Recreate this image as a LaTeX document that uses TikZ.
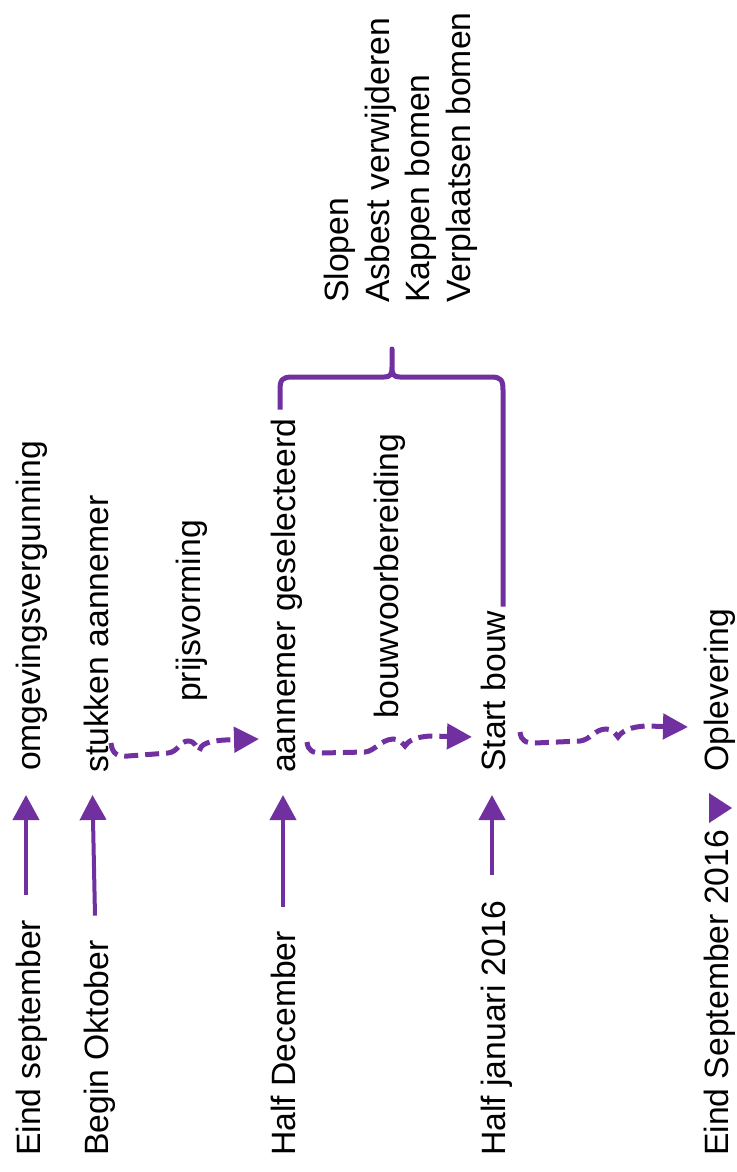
\documentclass[tikz,border=0pt]{standalone}
\usepackage{fontspec}
\setmainfont{Liberation Sans}
\usetikzlibrary{arrows.meta,calc}
\definecolor{tlpurple}{RGB}{112,48,160}
\begin{document}
\begin{tikzpicture}[x=1pt,y=1pt,
  vtext/.style={rotate=90,anchor=base west,inner sep=0pt,font=\fontsize{33.7pt}{40.5pt}\selectfont,text=black},
  solidarrow/.style={draw=tlpurple,line width=4pt,-{Triangle[length=25pt,width=26pt]}},
  dasharrow/.style={draw=tlpurple,line width=5pt,dash pattern=on 14pt off 7pt,-{Triangle[length=25pt,width=25pt]}},
  bracepath/.style={draw=tlpurple,line width=5pt,line join=round}]
\useasboundingbox (0,0) rectangle (736,-1172);
% date labels
\node[vtext] (es)  at (40,-1156)  {Eind september};
\node[vtext] (bo)  at (108,-1156) {Begin Oktober};
\node[vtext] (hd)  at (295,-1156) {Half December};
\node[vtext] (hj)  at (505,-1156) {Half januari 2016};
\node[vtext] (esp) at (728,-1156) {Eind September 2016};
% events
\node[vtext] (og) at (40,-771)  {omgevingsvergunning};
\node[vtext] (sa) at (108,-773) {stukken aannemer};
\node[vtext] (pv) at (200,-702) {prijsvorming};
\node[vtext] (ag) at (295,-773) {aannemer geselecteerd};
\node[vtext] (bv) at (398,-718.5) {bouwvoorbereiding};
\node[vtext] (sb) at (505,-772) {Start bouw};
\node[vtext] (op) at (728,-772) {Oplevering};
% list
\node[vtext] (l1) at (348.5,-303) {Slopen};
\node[vtext] (l2) at (389,-303)   {Asbest verwijderen};
\node[vtext] (l3) at (429.7,-303) {Kappen bomen};
\node[vtext] (l4) at (470.3,-303) {Verplaatsen bomen};
% solid arrows
\draw[solidarrow] ($(es.base east)+(-14,25)$) -- ($(og.base west)+(-14,-24)$);
\draw[solidarrow] ($(bo.base east)+(-13,24.5)$) -- ($(sa.base west)+(-15.5,-22)$);
\draw[solidarrow] ($(hd.base east)+(-12,24.3)$) -- ($(ag.base west)+(-12,-22)$);
\draw[solidarrow] ($(hj.base east)+(-13,26.3)$) -- ($(sb.base west)+(-13,-23)$);
% marker next to Oplevering
\fill[tlpurple] (709,-793) -- (709,-823) -- (732,-808) -- cycle;
% dashed arrows
\draw[dasharrow] ($(sa.base west)+(3,30)$) .. controls (112,-754) and (118,-757) .. (128,-756)
  -- (168,-753) .. controls (178,-752) and (180,-741) .. (188,-741)
  .. controls (195,-741) and (197,-748) .. (199,-751)
  .. controls (201,-744) and (208,-741) .. (225,-740) -- ($(ag.base west)+(-36,34)$);
\draw[dasharrow] ($(ag.base west)+(12,31)$) .. controls (308,-751) and (313,-753) .. (322,-753)
  -- (365,-752) .. controls (375,-751) and (380,-740) .. (393,-739)
  .. controls (400,-739) and (402,-743) .. (405,-746)
  .. controls (408,-741) and (415,-737) .. (430,-736) -- ($(sb.base west)+(-33,35)$);
\draw[dasharrow] ($(sb.base west)+(15,40)$) .. controls (521,-741) and (526,-743) .. (535,-743)
  -- (580,-741) .. controls (590,-740) and (595,-729) .. (606,-729)
  .. controls (612,-729) and (615,-733) .. (618,-737)
  .. controls (622,-731) and (630,-727) .. (645,-726) -- ($(op.base west)+(-40,45)$);
% brace
\draw[bracepath] ($(ag.base east)+(-15,9)$) -- (280,-390) .. controls (280,-380) and (282,-377) .. (292,-377)
  -- (384,-377) .. controls (390,-377) and (392,-375) .. (392,-367) -- (392,-349)
  -- (392,-367) .. controls (392,-375) and (394,-377) .. (400,-377)
  -- (491,-377) .. controls (501,-377) and (503,-380) .. (503,-390) -- ($(sb.base east)+(-2,4)$);
\end{tikzpicture}
\end{document}
